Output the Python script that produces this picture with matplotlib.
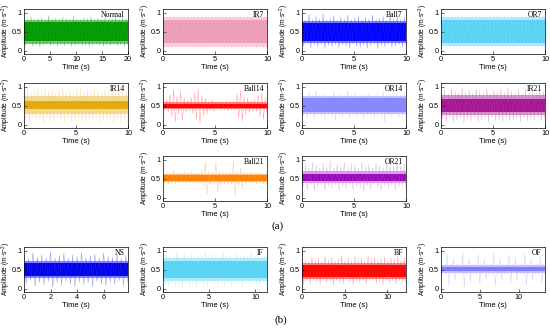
import numpy as np
import matplotlib.pyplot as plt

plt.rcParams['font.family'] = ['Liberation Sans', 'DejaVu Sans']
plt.rcParams['mathtext.fontset'] = 'custom'
plt.rcParams['mathtext.rm'] = 'Liberation Sans'
plt.rcParams['mathtext.it'] = 'Liberation Sans:italic'

# ---- data: upper peaks, lower troughs,
#      dense core band and the lighter band around it
normal_hi = [0.86, 0.82, 0.90, 0.83, 0.85, 0.88, 0.81, 0.93, 0.84, 0.86, 0.82, 0.89, 0.85, 0.83, 0.91,
             0.84, 0.82, 0.87, 0.85, 0.90, 0.83, 0.86, 0.84, 0.88, 0.82, 0.85, 0.89, 0.83, 0.86, 0.84]
normal_lo = [0.14, 0.18, 0.12, 0.16, 0.10, 0.15, 0.19, 0.13, 0.17, 0.11, 0.16, 0.14, 0.18, 0.12, 0.15,
             0.17, 0.13, 0.16, 0.10, 0.14, 0.18, 0.15, 0.12, 0.16, 0.14, 0.17, 0.13, 0.15, 0.11, 0.16]
normal_core = (0.25, 0.75)
normal_mid = (0.19, 0.81)

ir7_hi = [0.93, 0.90, 0.95, 0.91, 0.94, 0.92, 0.90, 0.96, 0.92, 0.93, 0.91, 0.94, 0.90, 0.95, 0.92,
          0.93, 0.91, 0.96, 0.92, 0.90, 0.94, 0.93, 0.91, 0.95, 0.92, 0.90, 0.94, 0.92, 0.93, 0.91]
ir7_lo = [0.07, 0.10, 0.05, 0.09, 0.06, 0.08, 0.10, 0.06, 0.08, 0.07, 0.09, 0.05, 0.08, 0.06, 0.10,
          0.07, 0.09, 0.05, 0.08, 0.07, 0.06, 0.09, 0.08, 0.05, 0.07, 0.10, 0.06, 0.08, 0.07, 0.09]
ir7_core = (0.20, 0.80)
ir7_mid = (0.11, 0.89)

ball7_hi = [0.88, 0.80, 0.95, 0.82, 0.90, 0.84, 0.97, 0.81, 0.86, 0.92, 0.80, 0.89, 0.83, 0.94, 0.82,
            0.87, 0.91, 0.81, 0.88, 0.84, 0.95, 0.82, 0.86, 0.90, 0.81, 0.93, 0.84, 0.88, 0.82, 0.90]
ball7_lo = [0.12, 0.20, 0.08, 0.17, 0.10, 0.19, 0.06, 0.15, 0.11, 0.18, 0.09, 0.16, 0.13, 0.07, 0.19,
            0.12, 0.10, 0.17, 0.08, 0.14, 0.18, 0.06, 0.15, 0.11, 0.19, 0.09, 0.13, 0.17, 0.10, 0.15]
ball7_core = (0.27, 0.73)
ball7_mid = (0.22, 0.78)

or7_hi = [0.92, 0.94, 0.90, 0.93, 0.91, 0.95, 0.92, 0.90, 0.94, 0.91, 0.93, 0.92, 0.95, 0.90, 0.93,
          0.91, 0.94, 0.92, 0.90, 0.93, 0.95, 0.91, 0.92, 0.94, 0.90, 0.93, 0.91, 0.95, 0.92, 0.93]
or7_lo = [0.08, 0.06, 0.10, 0.07, 0.09, 0.05, 0.08, 0.10, 0.06, 0.09, 0.07, 0.08, 0.05, 0.10, 0.07,
          0.09, 0.06, 0.08, 0.10, 0.07, 0.05, 0.09, 0.08, 0.06, 0.10, 0.07, 0.09, 0.05, 0.08, 0.07]
or7_core = (0.20, 0.80)
or7_mid = (0.12, 0.88)

ir14_hi = [0.88, 0.94, 0.85, 0.91, 0.97, 0.86, 0.92, 0.89, 0.95, 0.84, 0.90, 0.96, 0.87, 0.93, 0.85,
           0.91, 0.97, 0.88, 0.94, 0.86, 0.90, 0.95, 0.85, 0.92, 0.89, 0.96, 0.86, 0.93, 0.88, 0.91]
ir14_lo = [0.12, 0.06, 0.18, 0.09, 0.14, 0.05, 0.16, 0.10, 0.07, 0.19, 0.11, 0.08, 0.15, 0.06, 0.13,
           0.17, 0.09, 0.05, 0.14, 0.11, 0.18, 0.07, 0.12, 0.10, 0.16, 0.06, 0.13, 0.09, 0.15, 0.08]
ir14_core = (0.41, 0.64)
ir14_mid = (0.30, 0.76)

ball14_hi = [0.62, 0.66, 0.80, 0.92, 0.75, 0.88, 0.70, 0.65, 0.72, 0.85, 0.95, 0.78, 0.70, 0.62, 0.66,
             0.60, 0.62, 0.60, 0.63, 0.60, 0.61, 0.80, 0.90, 0.72, 0.70, 0.64, 0.66, 0.78, 0.85, 0.72]
ball14_lo = [0.38, 0.35, 0.22, 0.08, 0.28, 0.12, 0.32, 0.36, 0.30, 0.15, 0.05, 0.25, 0.30, 0.38, 0.34,
             0.40, 0.38, 0.40, 0.37, 0.40, 0.39, 0.18, 0.10, 0.28, 0.32, 0.36, 0.35, 0.22, 0.15, 0.30]
ball14_core = (0.45, 0.55)
ball14_mid = (0.41, 0.59)

or14_hi = [0.80, 0.76, 0.85, 0.78, 0.90, 0.77, 0.82, 0.79, 0.76, 0.86, 0.78, 0.81, 0.77, 0.92, 0.79,
           0.83, 0.76, 0.80, 0.78, 0.84, 0.77, 0.81, 0.79, 0.88, 0.76, 0.82, 0.78, 0.80, 0.77, 0.83]
or14_lo = [0.24, 0.20, 0.27, 0.15, 0.25, 0.22, 0.18, 0.26, 0.23, 0.12, 0.25, 0.21, 0.27, 0.19, 0.24,
           0.22, 0.26, 0.17, 0.25, 0.23, 0.20, 0.26, 0.24, 0.08, 0.25, 0.22, 0.27, 0.21, 0.24, 0.23]
or14_core = (0.35, 0.70)
or14_mid = (0.30, 0.75)

ir21_hi = [0.86, 0.92, 0.82, 0.95, 0.88, 0.84, 0.97, 0.87, 0.91, 0.83, 0.94, 0.89, 0.85, 0.96, 0.82,
           0.90, 0.87, 0.93, 0.84, 0.97, 0.88, 0.85, 0.92, 0.83, 0.95, 0.86, 0.90, 0.84, 0.93, 0.88]
ir21_lo = [0.16, 0.10, 0.20, 0.08, 0.14, 0.18, 0.06, 0.15, 0.11, 0.19, 0.09, 0.13, 0.17, 0.07, 0.20,
           0.12, 0.15, 0.09, 0.18, 0.10, 0.14, 0.17, 0.08, 0.19, 0.11, 0.16, 0.12, 0.18, 0.10, 0.15]
ir21_core = (0.35, 0.68)
ir21_mid = (0.25, 0.78)

ball21_hi = [0.66, 0.68, 0.65, 0.70, 0.67, 0.66, 0.69, 0.66, 0.68, 0.65, 0.67, 0.74, 0.96, 0.70, 0.68,
             0.95, 0.70, 0.67, 0.66, 0.69, 1.00, 0.70, 0.78, 0.68, 0.66, 0.69, 0.67, 0.65, 0.68, 0.66]
ball21_lo = [0.38, 0.36, 0.39, 0.35, 0.37, 0.38, 0.36, 0.39, 0.37, 0.38, 0.36, 0.30, 0.10, 0.34, 0.37,
             0.15, 0.33, 0.37, 0.38, 0.35, 0.05, 0.32, 0.25, 0.36, 0.38, 0.35, 0.37, 0.39, 0.36, 0.38]
ball21_core = (0.45, 0.60)
ball21_mid = (0.41, 0.64)

or21_hi = [0.82, 0.90, 0.78, 0.94, 0.85, 0.80, 0.92, 0.84, 0.97, 0.79, 0.88, 0.83, 0.93, 0.81, 0.89,
           0.86, 0.78, 0.95, 0.82, 0.88, 0.80, 0.91, 0.84, 0.79, 0.93, 0.86, 0.81, 0.89, 0.83, 0.90]
or21_lo = [0.30, 0.22, 0.34, 0.18, 0.28, 0.33, 0.20, 0.31, 0.25, 0.35, 0.19, 0.29, 0.24, 0.34, 0.21,
           0.30, 0.26, 0.16, 0.32, 0.23, 0.35, 0.27, 0.20, 0.31, 0.25, 0.33, 0.22, 0.29, 0.34, 0.26]
or21_core = (0.45, 0.62)
or21_mid = (0.38, 0.71)

ns_hi = [0.88, 0.80, 0.95, 0.83, 0.90, 0.82, 0.97, 0.81, 0.87, 0.93, 0.80, 0.89,
         0.84, 0.96, 0.82, 0.88, 0.91, 0.81, 0.94, 0.85, 0.83, 0.92, 0.80, 0.87]
ns_lo = [0.15, 0.22, 0.08, 0.18, 0.12, 0.20, 0.05, 0.17, 0.10, 0.21, 0.13, 0.07,
         0.19, 0.11, 0.16, 0.06, 0.20, 0.14, 0.09, 0.18, 0.12, 0.22, 0.08, 0.16]
ns_core = (0.33, 0.68)
ns_mid = (0.28, 0.74)

if_hi = [0.86, 0.94, 0.82, 0.90, 0.97, 0.84, 0.92, 0.88, 0.95, 0.83, 0.91, 0.86, 0.98, 0.85, 0.93,
         0.89, 0.84, 0.96, 0.87, 0.91, 0.83, 0.95, 0.88, 0.90, 0.85, 0.97, 0.86, 0.92, 0.84, 0.90]
if_lo = [0.12, 0.06, 0.17, 0.09, 0.14, 0.05, 0.18, 0.10, 0.13, 0.07, 0.16, 0.11, 0.08, 0.19, 0.12,
         0.06, 0.15, 0.10, 0.17, 0.08, 0.13, 0.11, 0.05, 0.16, 0.09, 0.14, 0.12, 0.07, 0.18, 0.10]
if_core = (0.30, 0.72)
if_mid = (0.22, 0.80)

bf_hi = [1.00, 0.78, 0.72, 0.84, 0.75, 0.80, 0.73, 0.86, 0.76, 0.82, 0.74, 0.79, 0.88, 0.75, 0.81, 0.73,
         0.85, 0.77, 0.80, 0.74, 0.87, 0.76, 0.82, 0.75, 0.79, 0.84, 0.74, 0.81, 0.77, 0.86, 0.75, 0.80]
bf_lo = [0.10, 0.22, 0.15, 0.25, 0.18, 0.12, 0.24, 0.16, 0.21, 0.10, 0.23, 0.17, 0.14, 0.25, 0.19, 0.11,
         0.22, 0.16, 0.24, 0.13, 0.20, 0.23, 0.15, 0.18, 0.12, 0.24, 0.17, 0.21, 0.14, 0.22, 0.19, 0.16]
bf_core = (0.32, 0.62)
bf_mid = (0.27, 0.68)

of_hi = [0.64, 0.66, 0.92, 0.65, 0.80, 0.66, 0.64, 0.95, 0.65, 0.82, 0.64, 0.66, 0.90, 0.65, 0.78,
         0.64, 0.66, 0.93, 0.65, 0.80, 0.64, 0.66, 0.88, 0.65, 0.82, 0.64, 0.66, 0.92, 0.65, 0.79,
         0.64, 0.66, 0.86, 0.65]
of_lo = [0.40, 0.38, 0.10, 0.40, 0.22, 0.39, 0.38, 0.05, 0.40, 0.20, 0.39, 0.38, 0.12, 0.40, 0.25,
         0.39, 0.38, 0.08, 0.40, 0.22, 0.39, 0.38, 0.14, 0.40, 0.20, 0.39, 0.38, 0.10, 0.40, 0.24,
         0.39, 0.38, 0.15, 0.40]
of_core = (0.46, 0.58)
of_mid = (0.43, 0.62)

# record lengths in seconds
durations = {'Normal': 20, 'NS': 7.8, 'IF': 11.3, 'BF': 12.2, 'OF': 13.4}


def draw_trace(ax, dur, hi, lo, core, mid, c_core, c_edge, alpha):
    y = np.empty(len(hi) + len(lo))
    y[0::2] = hi
    y[1::2] = lo
    t = np.linspace(0, dur, len(y))
    ax.plot(t, y, color=c_edge, lw=0.4, alpha=alpha)
    ax.fill_between([0, dur], mid[0], mid[1], color=c_edge, alpha=0.6, lw=0)
    ax.fill_between([0, dur], core[0], core[1], color=c_core, lw=0)
    ax.set_xlim(0, dur)


fig = plt.figure(figsize=(5.5, 3.29), dpi=100)

lefts = [24 / 550, 163 / 550, 302 / 550, 441 / 550]
bottoms = [1 - 54 / 329, 1 - 128 / 329, 1 - 201 / 329, 1 - 292 / 329]
w, h = 104 / 550, 45 / 329

panels = [
    # name, row, col, hi, lo, core, mid, core colour, edge colour, spike alpha, xticks
    ('Normal', 0, 0, normal_hi, normal_lo, normal_core, normal_mid, '#009a00', '#22a822', 0.6, [0, 5, 10, 15, 20]),
    ('IR7', 0, 1, ir7_hi, ir7_lo, ir7_core, ir7_mid, '#eb9bb6', '#f2b5c9', 0.5, [0, 5, 10]),
    ('Ball7', 0, 2, ball7_hi, ball7_lo, ball7_core, ball7_mid, '#0000ff', '#3030ff', 0.5, [0, 5, 10]),
    ('OR7', 0, 3, or7_hi, or7_lo, or7_core, or7_mid, '#55d2f5', '#88dff8', 0.5, [0, 5, 10]),
    ('IR14', 1, 0, ir14_hi, ir14_lo, ir14_core, ir14_mid, '#e3a600', '#eec455', 0.45, [0, 5, 10]),
    ('Ball14', 1, 1, ball14_hi, ball14_lo, ball14_core, ball14_mid, '#ff0000', '#ff3a3a', 0.45, [0, 5, 10]),
    ('OR14', 1, 2, or14_hi, or14_lo, or14_core, or14_mid, '#8585ff', '#a0a0ff', 0.45, [0, 5, 10]),
    ('IR21', 1, 3, ir21_hi, ir21_lo, ir21_core, ir21_mid, '#a3128f', '#bb55ac', 0.45, [0, 5, 10]),
    ('Ball21', 2, 1, ball21_hi, ball21_lo, ball21_core, ball21_mid, '#ff8000', '#ffa040', 0.5, [0, 5, 10]),
    ('OR21', 2, 2, or21_hi, or21_lo, or21_core, or21_mid, '#9800b8', '#c070d6', 0.45, [0, 5, 10]),
    ('NS', 3, 0, ns_hi, ns_lo, ns_core, ns_mid, '#0000e6', '#3a3aff', 0.5, [0, 2, 4, 6]),
    ('IF', 3, 1, if_hi, if_lo, if_core, if_mid, '#55d2f5', '#8be0f8', 0.45, [0, 5, 10]),
    ('BF', 3, 2, bf_hi, bf_lo, bf_core, bf_mid, '#ff0000', '#ff3a3a', 0.45, [0, 5, 10]),
    ('OF', 3, 3, of_hi, of_lo, of_core, of_mid, '#7878ff', '#a0a0ff', 0.45, [0, 5, 10]),
]

for name, r, c, hi, lo, core, mid, cc, ce, al, xt in panels:
    ax = fig.add_axes([lefts[c], bottoms[r], w, h])
    dur = durations.get(name, 10)
    draw_trace(ax, dur, hi, lo, core, mid, cc, ce, al)
    ax.set_ylim(-0.08, 1.1)
    ax.set_yticks([0, 0.5, 1])
    ax.set_yticklabels(['0', '0.5', '1'])
    ax.set_xticks(xt)
    ax.tick_params(direction='in', length=2, width=0.4, labelsize=5.2, pad=1.5)
    for s in ax.spines.values():
        s.set_linewidth(0.5)
    ax.set_xlabel('Time (s)', fontsize=5.5, labelpad=1)
    ax.set_ylabel('Amplitude (m·s$^{-2}$)', fontsize=4.8)
    ax.yaxis.set_label_coords(-0.11, 0.52)
    ax.text(0.97, 0.95, name, transform=ax.transAxes, ha='right', va='top',
            family='Liberation Serif', fontsize=5.5)

fig.text(278 / 550, 1 - 226 / 329, '(a)', ha='center', va='center',
         family='Liberation Serif', fontsize=8)
fig.text(281 / 550, 1 - 320 / 329, '(b)', ha='center', va='center',
         family='Liberation Serif', fontsize=8)

fig.savefig('out.png', dpi=100)
